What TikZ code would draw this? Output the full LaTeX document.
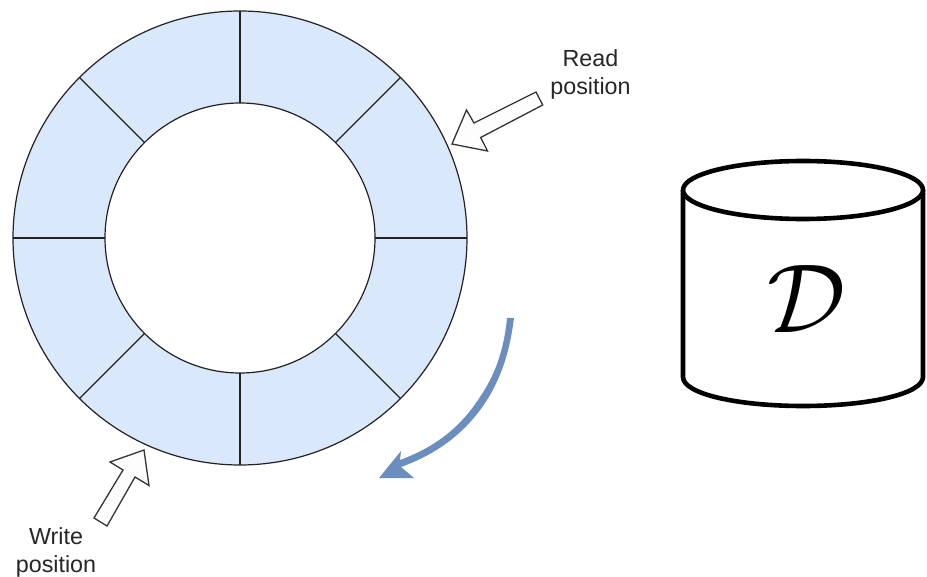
\documentclass[tikz,border=0pt]{standalone}
\usepackage{fontspec}
\usetikzlibrary{calc}
\setmainfont{Liberation Sans}
\definecolor{ringfill}{HTML}{DAE8FC}
\definecolor{ringline}{HTML}{222222}
\definecolor{flowblue}{HTML}{6C8EBF}
\definecolor{pointerfill}{HTML}{FCFDFC}
\tikzset{
  ring/.style={fill=ringfill,draw=ringline,line width=1.2pt},
  divider/.style={draw=ringline,line width=1.2pt},
  pointer/.style={fill=pointerfill,draw=black!80,line width=1.3pt,line join=miter},
  poslabel/.style={anchor=base,align=center,inner sep=0pt,font=\fontsize{23.3}{27.5}\selectfont,text=black!85},
  drum/.style={draw=black,line width=4.6pt,line join=round,fill=white},
}
\begin{document}
\begin{tikzpicture}[x=1pt,y=-1pt]
\useasboundingbox (0,0) rectangle (927,577);
% ring
\coordinate (c) at (240,238);
\fill[ringfill] (c) circle[radius=227pt];
\foreach \a in {0,45,...,315}{
  \draw[divider] ($(c)+(\a:135pt)$) -- ($(c)+(\a:227pt)$);
}
\draw[ring,fill=none] (c) circle[radius=227pt];
\draw[ring,fill=white] (c) circle[radius=135pt];
% read pointer
\draw[pointer] (452,144) -- (466.5,110) -- (474,123) -- (536,92) -- (542.7,105) -- (480.7,137.5) -- (487.5,151) -- cycle;
\node[poslabel] (readlabel) at (590.5,94.5) {Read\\position};
% write pointer
\draw[pointer] (144,450) -- (110,462) -- (123,470) -- (94,518) -- (107,526) -- (135,477) -- (149,485.5) -- cycle;
\node[poslabel] (writelabel) at (56,572) {Write\\position};
% direction arrow
\fill[flowblue] (507,318) .. controls (504,350) and (495,375) .. (480,397)
  .. controls (460,428) and (435,447) .. (400,460)
  -- (401,451) -- (379,478) -- (414,478) -- (401,467)
  .. controls (440,453) and (468,430) .. (487,400)
  .. controls (502,376) and (510,350) .. (514,318) -- cycle;
% cylinder
\draw[drum] (683,190) -- (683,377) .. controls (683,394) and (738,406) .. (803,406)
  .. controls (868,406) and (923,394) .. (923,377) -- (923,190);
\draw[drum] (803,190) ellipse[x radius=120pt,y radius=29pt];
\node[inner sep=0pt,scale=9.8] (dlabel) at (807,299) {$\mathcal{D}$};
\end{tikzpicture}
\end{document}
